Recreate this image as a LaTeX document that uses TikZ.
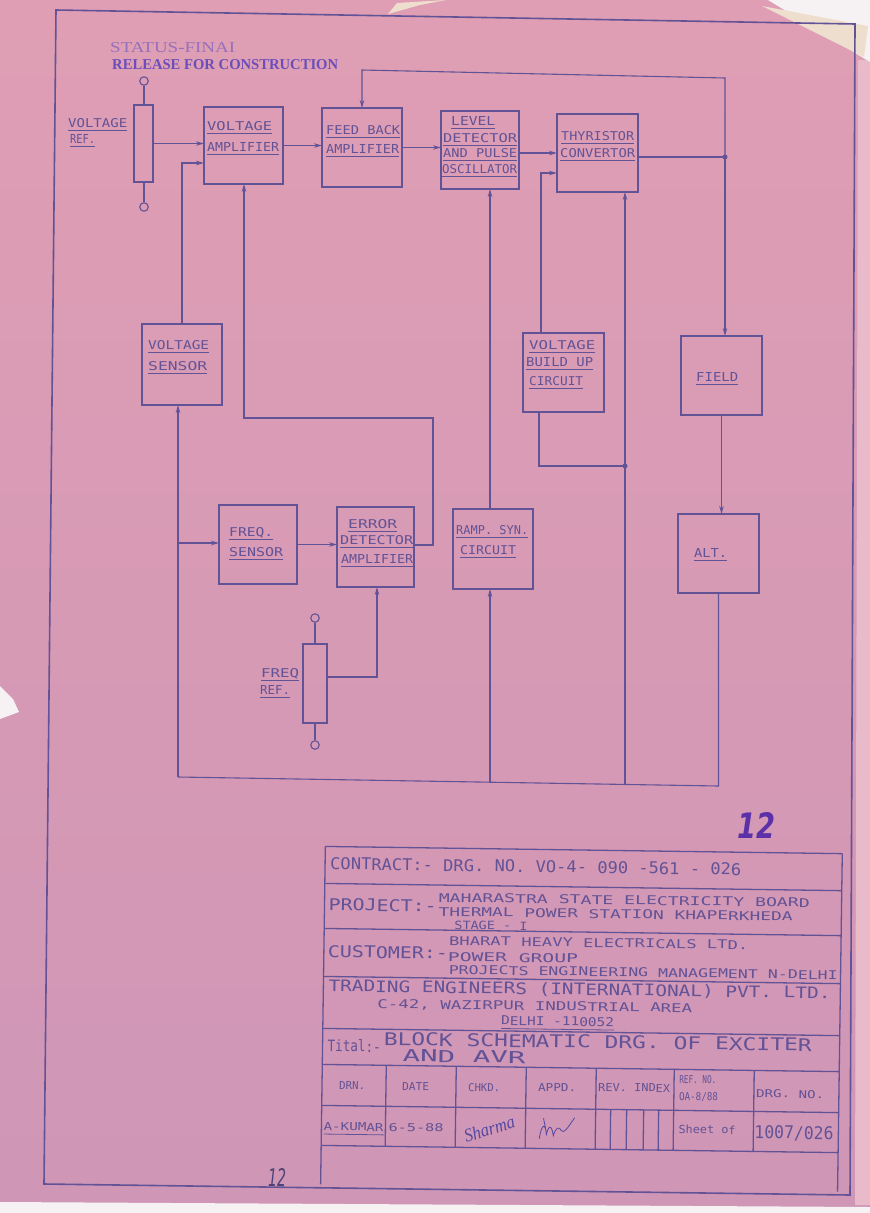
\documentclass[tikz,border=0pt]{standalone}
\usepackage{fontspec}
\usepackage{graphicx}
\usetikzlibrary{arrows.meta}

\newfontfamily\leroy{DejaVu Sans Mono}
\newfontfamily\stampfont{Liberation Serif}
\newfontfamily\handfont{DejaVu Sans}
\newfontfamily\signfont{Liberation Serif}

\definecolor{paperhi}{RGB}{223,158,180}
\definecolor{paperlo}{RGB}{207,150,182}
\definecolor{ink}{RGB}{98,82,150}
\definecolor{stampink}{RGB}{108,78,186}
\definecolor{stampfade}{RGB}{150,112,186}
\definecolor{pen}{RGB}{92,48,168}
\definecolor{signink}{RGB}{84,72,160}
\definecolor{cream}{RGB}{238,222,205}
\definecolor{blank}{RGB}{246,242,244}

% lettering: fixed width and cap height, optionally underlined
\newcommand\utext[3][9]{\resizebox{#2pt}{#1pt}{#3}\llap{\rule[-4pt]{#2pt}{0.8pt}}}
\newcommand\ptext[3][9]{\resizebox{#2pt}{#1pt}{#3}}

\begin{document}
\begin{tikzpicture}[x=1pt,y=-1pt,
  wire/.style={draw=ink, line width=1.1pt},
  feed/.style={wire, -{Stealth[length=8pt,width=4.5pt]}},
  blk/.style={draw=ink, line width=1.2pt, inner sep=0pt, outer sep=0pt},
  lbl/.style={anchor=base west, inner sep=0pt, text=ink, font=\leroy\fontsize{12}{14}\selectfont},
  big/.style={lbl, font=\leroy\fontsize{16}{18}\selectfont},
  tbl/.style={draw=ink, line width=1.3pt},
  pot/.style={draw=ink, line width=1.1pt, circle, minimum size=8.5pt, inner sep=0pt},
  jdot/.style={circle, fill=ink, minimum size=5pt, inner sep=0pt},
  frame/.style={draw=ink, line width=1.6pt}]
\useasboundingbox (0,0) rectangle (870,1213);

% ---------- sheet ----------
\shade[top color=paperhi, bottom color=paperlo] (0,0) rectangle (870,1213);
\fill[paperhi!70!white] (858,60) -- (870,60) -- (870,1205) -- (855,1205) -- cycle;
\fill[blank] (0,1202) -- (870,1207) -- (870,1213) -- (0,1213) -- cycle;
\fill[blank] (768,0) -- (870,0) -- (870,62) -- cycle;
\fill[cream] (762,6) -- (868,26) -- (864,57) -- cycle;
\fill[cream] (388,14) -- (397,3) -- (446,0) -- (420,5) -- cycle;
\fill[blank] (0,686) -- (13,699) -- (19,712) -- (0,719) -- cycle;

% outer border
\draw[frame] (56,10) -- (855,24) -- (850,1195) -- (44,1184) -- cycle;

% ---------- stamp ----------
\node[anchor=base west, inner sep=0pt, text=stampfade, font=\stampfont] (st1) at (110,52) {\ptext[10]{125}{STATUS-FINAI}};
\node[anchor=base west, inner sep=0pt, text=stampink, font=\stampfont\bfseries] (st2) at (112,69) {\ptext[10]{226}{RELEASE FOR CONSTRUCTION}};

% ---------- blocks ----------
\node[blk, minimum width=19pt, minimum height=77pt] (vref) at (143.5,143.5) {};
\node[blk, minimum width=79pt, minimum height=77pt] (va)   at (243.5,145.5) {};
\node[blk, minimum width=80pt, minimum height=79pt] (fb)   at (362,147.5) {};
\node[blk, minimum width=78pt, minimum height=78pt] (lvl)  at (480,150) {};
\node[blk, minimum width=81pt, minimum height=78pt] (thy)  at (597.5,153) {};
\node[blk, minimum width=80pt, minimum height=81pt] (vs)   at (182,364.5) {};
\node[blk, minimum width=81pt, minimum height=79pt] (vbu)  at (563.5,372.5) {};
\node[blk, minimum width=81pt, minimum height=79pt] (fld)  at (721.5,375.5) {};
\node[blk, minimum width=78pt, minimum height=79pt] (fs)   at (258,544.5) {};
\node[blk, minimum width=77pt, minimum height=80pt] (eda)  at (375.5,547) {};
\node[blk, minimum width=80pt, minimum height=80pt] (ramp) at (493,549) {};
\node[blk, minimum width=81pt, minimum height=79pt] (alt)  at (718.5,553.5) {};
\node[blk, minimum width=24pt, minimum height=79pt] (fref) at (315,683.5) {};

% potentiometer terminals
\node[pot] (vref-a) at (144,81) {};
\node[pot] (vref-b) at (144,207) {};
\node[pot] (fref-a) at (315,618) {};
\node[pot] (fref-b) at (315,745) {};
\draw[wire] (vref-a) -- (vref-a |- vref.north);
\draw[wire] (vref-b) -- (vref-b |- vref.south);
\draw[wire] (fref-a) -- (fref-a |- fref.north);
\draw[wire] (fref-b) -- (fref-b |- fref.south);

% ---------- labels ----------
\node[lbl] (vref-l1) at (68,127) {\utext{59}{VOLTAGE}};
\node[lbl] (vref-l2) at (70,143) {\utext{25}{REF.}};
\node[lbl] (va-l1) at (207,130) {\utext{65}{VOLTAGE}};
\node[lbl] (va-l2) at (207,151) {\utext{72}{AMPLIFIER}};
\node[lbl] (fb-l1) at (326,134) {\utext{74}{FEED BACK}};
\node[lbl] (fb-l2) at (326,153) {\utext{73}{AMPLIFIER}};
\node[lbl] (lvl-l1) at (451,125) {\utext{44}{LEVEL}};
\node[lbl] (lvl-l2) at (443,142) {\utext{74}{DETECTOR}};
\node[lbl] (lvl-l3) at (443,157) {\utext{74}{AND PULSE}};
\node[lbl] (lvl-l4) at (442,173) {\utext{75}{OSCILLATOR}};
\node[lbl] (thy-l1) at (561,140) {\utext{73}{THYRISTOR}};
\node[lbl] (thy-l2) at (560,157) {\utext{75}{CONVERTOR}};
\node[lbl] (vs-l1) at (148,349) {\utext{61}{VOLTAGE}};
\node[lbl] (vs-l2) at (148,370) {\utext{59}{SENSOR}};
\node[lbl] (vbu-l1) at (529,349) {\utext{66}{VOLTAGE}};
\node[lbl] (vbu-l2) at (526,366) {\utext{67}{BUILD UP}};
\node[lbl] (vbu-l3) at (529,385) {\utext{54}{CIRCUIT}};
\node[lbl] (fld-l1) at (696,381) {\utext{42}{FIELD}};
\node[lbl] (fs-l1) at (229,536) {\utext{44}{FREQ.}};
\node[lbl] (fs-l2) at (229,556) {\utext{54}{SENSOR}};
\node[lbl] (eda-l1) at (348,528) {\utext{49}{ERROR}};
\node[lbl] (eda-l2) at (340,544) {\utext{73}{DETECTOR}};
\node[lbl] (eda-l3) at (341,563) {\utext{72}{AMPLIFIER}};
\node[lbl] (ramp-l1) at (456,534) {\utext{72}{RAMP. SYN.}};
\node[lbl] (ramp-l2) at (460,554) {\utext{56}{CIRCUIT}};
\node[lbl] (alt-l1) at (694,557) {\utext{33}{ALT.}};
\node[lbl] (fref-l1) at (261,677) {\utext{38}{FREQ}};
\node[lbl] (fref-l2) at (260,694) {\utext{30}{REF.}};

% ---------- junctions ----------
\coordinate (j1) at (725,157);
\coordinate (tr) at (725,78);
\coordinate (tl) at (362,70);
\coordinate (br) at (718.5,786);
\coordinate (bl) at (178,777);
\coordinate (jf) at (178,543);
\coordinate (vsu) at (182,163);
\coordinate (ea) at (433,545);
\coordinate (eb) at (433,418);
\coordinate (ec) at (244,418);
\coordinate (fa) at (377,677);
\coordinate (rb) at (490,782);
\coordinate (tb) at (625,784);
\coordinate (j2) at (625,466);
\coordinate (vt) at (541,173);
\coordinate (vb) at (539,466);

% ---------- connectors ----------
\draw[feed] (vref.east) -- (vref.east -| va.west);
\draw[feed] (va.east) -- (va.east -| fb.west);
\draw[feed] (fb.east) -- (fb.east -| lvl.west);
\draw[feed] (lvl.east |- thy.west) -- (thy.west);
\draw[wire] (thy.east |- j1) -- (j1);
\draw[feed] (j1) -- (tr) -- (tl) -- (fb.north);
\draw[feed] (j1) -- (j1 |- fld.north);
\draw[feed] (fld.south) -- (fld.south |- alt.north);
\draw[wire] (alt.south) -- (br) -- (bl);
\draw[feed] (bl) -- (bl |- vs.south);
\draw[feed] (jf) -- (jf -| fs.west);
\draw[feed] (vs.north) -- (vsu) -- (vsu -| va.west);
\draw[feed] (fs.east) -- (fs.east -| eda.west);
\draw[feed] (eda.east |- ea) -- (ea) -- (eb) -- (ec) -- (ec |- va.south);
\draw[feed] (fref.east |- fa) -- (fa) -- (fa |- eda.south);
\draw[feed] (rb) -- (rb |- ramp.south);
\draw[feed] (rb |- ramp.north) -- (rb |- lvl.south);
\draw[feed] (tb) -- (j2) -- (j2 |- thy.south);
\draw[feed] (vbu.north -| vt) -- (vt) -- (vt -| thy.west);
\draw[wire] (vbu.south -| vb) -- (vb) -- (j2);
\node[jdot] (d1) at (j1) {};
\node[jdot] (d2) at (j2) {};

% ---------- sheet numbers in pen ----------
\node[anchor=base west, inner sep=0pt, text=pen, font=\handfont\bfseries\itshape] (no1) at (737,838) {\ptext[26]{38}{12}};
\node[anchor=base west, inner sep=0pt, text=ink!80!black, font=\handfont\itshape] (no2) at (268,1186) {\ptext[18]{18}{12}};

% ---------- title block ----------
\begin{scope}[rotate around={-0.8:(580,1015)}, transform shape]
  \draw[tbl] (323,850) -- (840,850);
  \draw[tbl] (323,887) -- (840,887);
  \draw[tbl] (323,932) -- (840,932);
  \draw[tbl] (323,980) -- (840,980);
  \draw[tbl] (323,1032) -- (840,1032);
  \draw[tbl] (323,1068) -- (840,1068);
  \draw[tbl] (323,1109) -- (840,1109);
  \draw[tbl] (323,1149) -- (840,1149);
  \draw[tbl] (323,850) -- (323,1188);
  \draw[tbl] (840,850) -- (840,1188);
  \foreach \cx in {387,457,527,597,675,755} \draw[tbl] (\cx,1068) -- (\cx,1149);
  \foreach \cx in {612,628,645,660} \draw[tbl] (\cx,1109) -- (\cx,1149);

  \node[big] (t-con) at (328,873) {\ptext[12]{411}{CONTRACT:- DRG. NO. VO-4- 090 -561 - 026}};
  \node[big] (t-prj) at (327,914) {\ptext[12]{108}{PROJECT:-}};
  \node[lbl] (t-prj1) at (437,904) {\ptext{371}{MAHARASTRA  STATE  ELECTRICITY  BOARD}};
  \node[lbl] (t-prj2) at (437,918) {\ptext{354}{THERMAL  POWER  STATION  KHAPERKHEDA}};
  \node[lbl] (t-prj3) at (453,931) {\ptext[8.5]{73}{STAGE - I}};
  \node[big] (t-cus) at (327,961) {\ptext[12]{120}{CUSTOMER:-}};
  \node[lbl] (t-cus1) at (448,947) {\ptext{299}{BHARAT  HEAVY  ELECTRICALS  LTD.}};
  \node[lbl] (t-cus2) at (447,963) {\ptext{130}{POWER  GROUP}};
  \node[lbl] (t-cus3) at (448,976) {\ptext{389}{PROJECTS ENGINEERING MANAGEMENT N-DELHI}};
  \node[big] (t-trd) at (328,995) {\ptext[12]{502}{TRADING  ENGINEERS (INTERNATIONAL) PVT. LTD.}};
  \node[lbl] (t-trd1) at (377,1011) {\ptext{315}{C-42, WAZIRPUR  INDUSTRIAL  AREA}};
  \node[lbl] (t-trd2) at (501,1026) {\utext{113}{DELHI -110052}};
  \node[big] (t-ttl) at (328,1055) {\ptext[12]{53}{Tital:-}};
  \node[big] (t-ttl1) at (384,1048) {\ptext[13]{428}{BLOCK  SCHEMATIC  DRG.  OF  EXCITER}};
  \node[big] (t-ttl2) at (403,1064) {\ptext[12]{123}{AND  AVR}};

  \node[lbl] (h-drn) at (340,1093) {\ptext[8]{26}{DRN.}};
  \node[lbl] (h-date) at (403,1093) {\ptext[8]{27}{DATE}};
  \node[lbl] (h-chk) at (469,1093) {\ptext[8]{32}{CHKD.}};
  \node[lbl] (h-app) at (539,1092) {\ptext[8]{38}{APPD.}};
  \node[lbl] (h-rev) at (599,1091) {\ptext[8]{72}{REV. INDEX}};
  \node[lbl] (h-ref) at (680,1082) {\ptext[8]{37}{REF. NO.}};
  \node[lbl] (h-oa) at (680,1099) {\ptext[8]{39}{OA-8/88}};
  \node[lbl] (h-drg) at (757,1095) {\ptext[8]{68}{DRG. NO.}};

  \node[lbl] (d-drn) at (325,1134) {\utext[8]{60}{A-KUMAR}};
  \node[lbl] (d-date) at (390,1134) {\ptext[8]{55}{6-5-88}};
  \node[lbl] (d-sht) at (680,1132) {\ptext[8.5]{57}{Sheet  of}};
  \node[big] (d-drg) at (756,1136) {\ptext[13]{79}{1007/026}};

  % signatures
  \node[inner sep=0pt, text=signink, rotate=18] (sig) at (491,1130) {\ptext[13]{52}{\signfont\itshape Sharma}};
  \draw[signink, line width=0.8pt, line cap=round]
    (541,1139) .. controls (543,1125) and (547,1122) .. (548,1135)
    .. controls (550,1126) and (553,1124) .. (555,1136)
    .. controls (557,1128) and (561,1126) .. (563,1131)
    .. controls (566,1134) and (569,1128) .. (576,1118);
  \draw[signink, line width=0.8pt, line cap=round] (545,1119) -- (547,1128);
\end{scope}
\end{tikzpicture}
\end{document}
